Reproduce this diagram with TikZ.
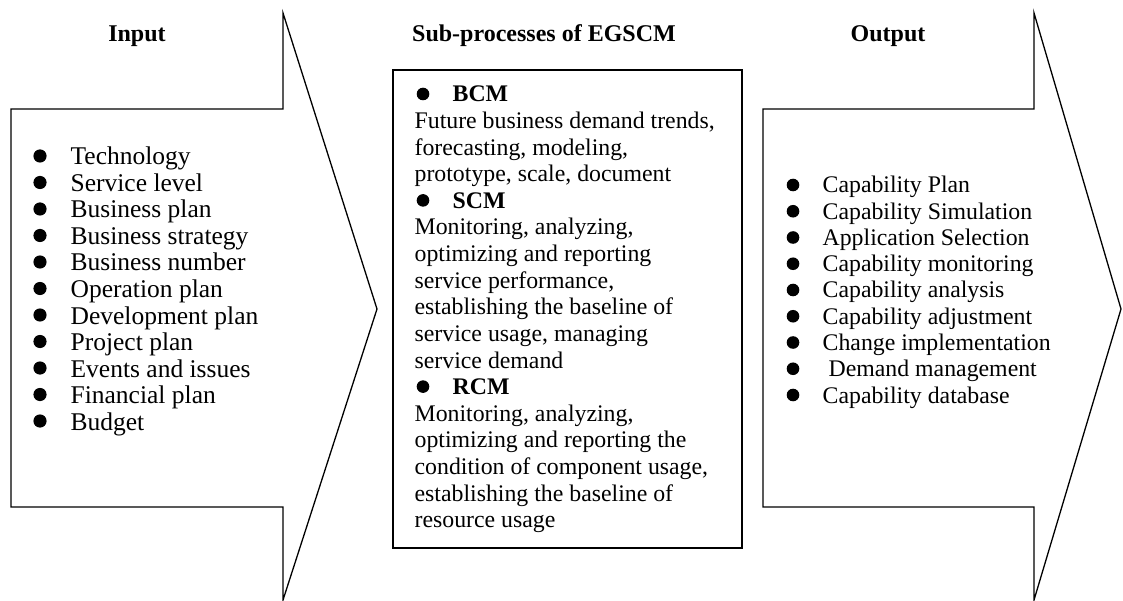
\documentclass[tikz,border=0pt]{standalone}
\usepackage{fontspec}
\setmainfont{Liberation Serif}
\begin{document}
\begin{tikzpicture}[x=1pt,y=-1pt,line width=1.3pt,line join=miter]
\tikzset{
  heading/.style={anchor=base,inner sep=0pt,font=\fontsize{24}{26}\selectfont\bfseries},
  initem/.style={anchor=base west,inner sep=0pt,font=\fontsize{25.5}{26.5}\selectfont},
  outitem/.style={anchor=base west,inner sep=0pt,font=\fontsize{23.8}{26}\selectfont},
  miditem/.style={anchor=base west,inner sep=0pt,font=\fontsize{23.8}{26}\selectfont},
  midhead/.style={anchor=base west,inner sep=0pt,font=\fontsize{23.8}{26}\selectfont\bfseries},
  bigarrow/.style={draw=black,fill=white},
  bul/.style={fill=black}
}
\useasboundingbox (0,0) rectangle (1123,601);
\fill[white] (0,0) rectangle (1123,601);
% arrows and box
\draw[bigarrow] (11,109) -- (283,109) -- (283,13) -- (377,309) -- (283,600) -- (283,507) -- (11,507) -- cycle;
\draw[bigarrow] (763,109) -- (1034,109) -- (1034,13) -- (1121,309) -- (1034,600) -- (1034,507) -- (763,507) -- cycle;
\draw[bigarrow] (393,70) rectangle (742,548);
% headings
\node[heading] (hin) at (137,42) {Input};
\node[heading] (hmid) at (544,42) {Sub-processes of EGSCM};
\node[heading] (hout) at (888,42) {Output};
% input list
\foreach \t [count=\i from 0] in {Technology,Service level,Business plan,Business strategy,Business number,Operation plan,Development plan,Project plan,Events and issues,Financial plan,Budget}{
  \node[initem] (in\i) at (70,{165+26.5*\i}) {\t};
  \fill[bul] (40,{156+26.5*\i}) circle (6.6);
}
% output list
\foreach \t [count=\i from 0] in {Capability Plan,Capability Simulation,Application Selection,Capability monitoring,Capability analysis,Capability adjustment,Change implementation,\hspace*{6pt}Demand management,Capability database}{
  \node[outitem] (out\i) at (822,{193+26.25*\i}) {\t};
  \fill[bul] (793,{185+26.25*\i}) circle (6.3);
}
% middle
\def\mb#1{{102+26.6*#1}}
\node[midhead] (bcm) at (452,{102}) {BCM};
\fill[bul] (423,94) circle (6.3);
\node[miditem] (m1) at (414,{102+26.6*1}) {Future business demand trends,};
\node[miditem] (m2) at (414,{102+26.6*2}) {forecasting, modeling,};
\node[miditem] (m3) at (414,{102+26.6*3}) {prototype, scale, document};
\node[midhead] (scm) at (452,{102+26.6*4}) {SCM};
\fill[bul] (423,{94+26.6*4}) circle (6.3);
\node[miditem] (m5) at (414,{102+26.6*5}) {Monitoring, analyzing,};
\node[miditem] (m6) at (414,{102+26.6*6}) {optimizing and reporting};
\node[miditem] (m7) at (414,{102+26.6*7}) {service performance,};
\node[miditem] (m8) at (414,{102+26.6*8}) {establishing the baseline of};
\node[miditem] (m9) at (414,{102+26.6*9}) {service usage, managing};
\node[miditem] (m10) at (414,{102+26.6*10}) {service demand};
\node[midhead] (rcm) at (452,{102+26.6*11}) {RCM};
\fill[bul] (423,{94+26.6*11}) circle (6.3);
\node[miditem] (m12) at (414,{102+26.6*12}) {Monitoring, analyzing,};
\node[miditem] (m13) at (414,{102+26.6*13}) {optimizing and reporting the};
\node[miditem] (m14) at (414,{102+26.6*14}) {condition of component usage,};
\node[miditem] (m15) at (414,{102+26.6*15}) {establishing the baseline of};
\node[miditem] (m16) at (414,{102+26.6*16}) {resource usage};
\end{tikzpicture}
\end{document}
